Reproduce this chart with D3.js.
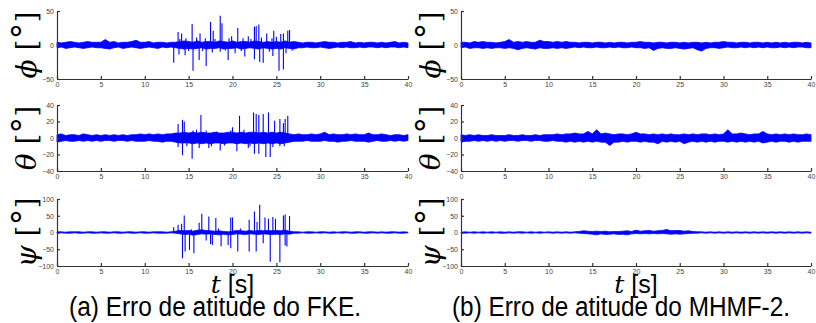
<!DOCTYPE html>
<html>
<head>
<meta charset="utf-8">
<script src="https://cdn.jsdelivr.net/npm/d3@7"></script>
<style>
  body { margin: 0; background: #fff; }
  svg { display: block; }
  .tick text { font-family: "Liberation Sans", Arial, sans-serif; font-size: 7px; fill: #444; }
  .domain, .tick line { stroke: #333; stroke-width: 1.2; }
</style>
</head>
<body>
<svg id="chart" width="816" height="323"></svg>
<script>
// sample times of the noise envelopes (every 0.5 s, 0..40 s)
const times = d3.range(81).map(i => i / 2);
const xTicks = [0, 5, 10, 15, 20, 25, 30, 35, 40];
const phiTicks = [-50, 0, 50];
const thetaTicks = [-40, -20, 0, 20, 40];
const psiTicks = [-100, -50, 0, 50, 100];

// --- FKE: upper / lower envelope of the noise band, then the spikes [t, value]
const phiFkeHi = [4,3,4,5,4,3,4,5,4,4, 4,8,4,5,3,4,4,5,7,4, 4,5,3,4,4,3,4,4,5,6, 5,4,6,4,5,5,4,6,5,4,
  6,4,5,5,4,6,5,4,5,4, 5,4,6,4,5,4,3,4,4,3, 4,5,4,4,3,4,4,5,3,4, 3,4,4,3,4,3,4,5,3,4, 3];
const phiFkeLo = [-4,-3,-5,-4,-3,-4,-5,-4,-3,-4, -4,-5,-6,-4,-3,-5,-4,-3,-4,-5, -4,-3,-4,-5,-3,-4,-3,-4,-5,-6,
  -5,-6,-5,-4,-6,-5,-5,-4,-6,-5, -5,-4,-6,-5,-4,-5,-6,-4,-5,-6, -5,-6,-4,-5,-6,-4,-4,-3,-4,-4,
  -3,-4,-5,-4,-3,-4,-3,-4,-4,-3, -4,-3,-3,-4,-3,-4,-3,-3,-4,-3, -4];
const phiFkeSpikes = [[13.3,-26],[13.8,19],[13.9,-14],[14.2,17],[14.6,-15],[14.7,10],[15.4,31],[15.5,-38],
  [16.2,-22],[16.3,17],[16.9,10],[17.0,-31],[17.5,34],[17.7,-11],[17.8,21],[18.6,43],[18.6,-10],[18.8,32],
  [19.5,-22],[19.9,13],[20.3,-12],[20.6,25],[21.2,10],[21.4,-17],[21.8,13],[22.5,27],[22.5,-21],[22.7,28],
  [23.0,30],[23.1,-25],[23.5,-26],[23.9,17],[24.5,10],[24.6,-16],[24.7,21],[25.3,-38],[25.5,16],[25.8,17],
  [25.8,-36],[26.1,-12],[26.3,21],[26.5,22],
  [14.0,9],[15.0,-9],[15.9,11],[16.6,-9],[18.0,9],[19.2,-8],[19.6,10],[21.0,-9],[22.1,9],[23.3,11],
  [24.2,-10],[25.0,12],[26.8,-8]];

const thetaFkeHi = [4,5,3,4,4,3,5,4,3,4, 3,4,3,4,3,4,3,4,4,5, 4,5,4,5,4,5,5,6,6,7, 6,7,6,7,6,6,7,6,6,7,
  7,6,7,6,7,7,6,7,6,7, 6,7,6,5,4,5,4,4,5,4, 5,7,4,5,4,4,5,4,5,4, 4,6,4,4,5,4,3,4,4,3, 4];
const thetaFkeLo = [-5,-4,-3,-4,-4,-3,-4,-3,-4,-3, -4,-3,-3,-4,-3,-3,-4,-3,-4,-4, -4,-3,-4,-4,-5,-4,-4,-5,-6,-6,
  -6,-7,-6,-7,-6,-7,-6,-6,-7,-6, -6,-7,-6,-7,-6,-7,-6,-7,-6,-7, -6,-7,-6,-5,-4,-4,-4,-3,-4,-4,
  -4,-3,-4,-4,-5,-4,-4,-3,-4,-4, -4,-5,-4,-3,-4,-4,-3,-4,-3,-4, -3];
const thetaFkeSpikes = [[13.8,17],[13.8,-11],[14.3,22],[14.3,-21],[14.5,20],[15.4,-25],[15.5,9],[16.2,-12],
  [16.4,28],[16.7,7],[17.3,-12],[18.6,-15],[20.0,13],[20.5,-16],[20.8,27],[21.8,-12],[22.4,31],[22.5,-19],
  [22.7,29],[23.0,28],[23.0,-19],[23.5,29],[23.8,-23],[24.1,31],[24.3,-23],[24.8,21],[25.4,23],[25.4,-10],
  [25.8,18],[25.9,-10],[26.0,23],[26.3,27],
  [14.8,-10],[15.9,10],[17.0,9],[17.6,-10],[18.2,8],[19.1,-9],[19.8,9],[21.3,10],[22.0,-10],[24.6,-11]];

const psiFkeHi = [2,2,1,2,2,2,1,2,2,1, 2,2,1,2,2,1,2,2,1,2, 2,1,2,2,2,1,2,4,6,5, 6,4,7,8,6,5,4,5,3,2,
  4,6,5,4,6,4,6,5,6,5, 6,5,7,4,2,2,1,2,2,1, 2,2,1,2,1,2,2,1,2,2, 1,2,2,1,2,1,2,2,1,2, 1];
const psiFkeLo = [-2,-1,-2,-2,-1,-2,-2,-1,-2,-2, -1,-2,-2,-1,-2,-2,-1,-2,-2,-1, -2,-2,-1,-2,-2,-2,-1,-2,-4,-6,
  -5,-8,-6,-4,-5,-4,-6,-7,-5,-7, -6,-4,-5,-6,-4,-5,-6,-4,-5,-6, -5,-6,-4,-5,-2,-2,-1,-2,-2,-1,
  -2,-1,-2,-2,-1,-2,-1,-2,-2,-1, -2,-2,-1,-2,-1,-2,-2,-1,-2,-2, -1];
const psiFkeSpikes = [[13.3,16],[13.8,23],[14.2,26],[14.3,-77],[14.5,51],[14.6,-57],[15.1,-52],[15.3,10],
  [15.6,-62],[16.2,29],[16.5,56],[17.0,-24],[17.3,48],[17.5,-34],[17.7,-37],[18.1,43],[18.4,12],[18.7,-41],
  [19.5,-37],[19.8,45],[19.8,-47],[20.0,45],[20.6,-57],[20.9,12],[21.9,38],[21.9,-57],[22.5,63],[22.7,-57],
  [22.8,31],[23.1,83],[23.5,-32],[23.7,45],[24.1,41],[24.3,-87],[24.6,46],[24.9,41],[25.4,-89],[25.8,51],
  [26.0,54],[26.0,-39],[26.2,-42],[26.5,49]];

// --- MHMF-2: noise only
const phiMhmfHi = [4,4,3,5,4,5,4,4,3,4, 5,8,4,5,4,5,4,4,7,5, 5,4,5,4,5,4,4,3,4,4, 3,4,4,3,4,3,4,4,3,4,
  4,5,4,4,3,4,4,3,4,4, 3,4,3,4,4,3,4,3,4,4, 5,4,4,3,4,4,3,4,4,3, 4,3,4,3,4,3,4,4,3,4, 3];
const phiMhmfLo = [-4,-3,-5,-4,-4,-5,-4,-5,-4,-4, -5,-4,-5,-7,-5,-4,-5,-6,-4,-5, -5,-4,-5,-4,-5,-4,-3,-4,-3,-4,
  -4,-3,-4,-4,-3,-4,-3,-4,-4,-3, -4,-4,-5,-4,-8,-5,-4,-5,-5,-4, -5,-6,-5,-4,-7,-9,-5,-4,-4,-5,
  -4,-3,-4,-4,-3,-4,-3,-4,-3,-4, -3,-4,-4,-3,-4,-3,-4,-3,-3,-4, -4];

const thetaMhmfHi = [4,3,4,3,4,3,3,4,3,3, 3,4,3,3,4,3,3,4,3,4, 4,4,5,4,5,5,6,5,5,8, 5,10,5,6,5,4,5,5,4,5,
  7,5,5,4,5,4,5,4,5,4, 4,5,4,5,4,5,5,4,5,4, 5,10,5,5,6,5,4,5,5,8, 5,4,5,4,5,4,5,4,4,5, 4];
const thetaMhmfLo = [-5,-4,-4,-3,-4,-3,-4,-3,-4,-3, -4,-3,-3,-4,-3,-3,-4,-3,-3,-4, -4,-3,-4,-4,-5,-4,-5,-4,-5,-4,
  -5,-4,-5,-5,-9,-5,-5,-4,-5,-4, -4,-5,-4,-5,-5,-7,-4,-5,-4,-5, -4,-7,-5,-4,-5,-4,-5,-4,-5,-4,
  -4,-5,-4,-5,-4,-5,-4,-5,-4,-6, -5,-4,-5,-4,-4,-5,-4,-5,-4,-4, -4];

const psiMhmfHi = [1,2,1,2,1,2,1,2,1,2, 1,2,1,2,2,1,2,1,2,1, 2,1,2,1,2,1,2,3,5,4, 3,4,3,4,2,3,3,4,5,3,
  7,4,5,6,4,5,6,9,5,6, 6,4,5,3,2,2,1,2,1,2, 1,2,1,2,1,2,1,2,1,2, 1,2,1,2,1,2,1,2,1,2, 1];
const psiMhmfLo = [-1,-2,-1,-2,-1,-2,-1,-2,-1,-2, -2,-1,-2,-1,-2,-1,-2,-1,-2,-1, -1,-2,-1,-2,-1,-2,-1,-2,-3,-4,
  -5,-7,-4,-6,-5,-4,-6,-5,-7,-4, -3,-4,-3,-4,-3,-4,-3,-4,-5,-4, -5,-4,-3,-2,-2,-1,-2,-1,-2,-1,
  -2,-1,-2,-1,-2,-1,-2,-1,-2,-1, -2,-1,-2,-1,-2,-1,-2,-1,-2,-1, -2];

const captions = ["(a) Erro de atitude do FKE.", "(b) Erro de atitude do MHMF-2."];
const symbols = ["\u03D5", "\u03B8", "\u03C8"];

const svg = d3.select('#chart');

const cols = [
  {x0: 57, x1: 408, capX: 215, capW: 292},
  {x0: 461, x1: 811, capX: 621, capW: 338}
];
const rows = [
  {y0: 11, y1: 79, domain: [-50, 50], ticks: phiTicks},
  {y0: 105, y1: 171, domain: [-40, 40], ticks: thetaTicks},
  {y0: 199, y1: 266, domain: [-100, 100], ticks: psiTicks}
];
const panels = [
  [[phiFkeHi, phiFkeLo, phiFkeSpikes], [thetaFkeHi, thetaFkeLo, thetaFkeSpikes], [psiFkeHi, psiFkeLo, psiFkeSpikes]],
  [[phiMhmfHi, phiMhmfLo, []], [thetaMhmfHi, thetaMhmfLo, []], [psiMhmfHi, psiMhmfLo, []]]
];

cols.forEach((col, c) => {
  const x = d3.scaleLinear().domain([0, 40]).range([col.x0, col.x1]);

  rows.forEach((row, r) => {
    const y = d3.scaleLinear().domain(row.domain).range([row.y1, row.y0]);
    const [hi, lo, spikes] = panels[c][r];
    const g = svg.append('g');

    const band = d3.area()
      .x(t => x(t))
      .y0((t, i) => y(lo[i]))
      .y1((t, i) => y(hi[i]));

    g.append('path')
      .datum(times)
      .attr('d', band)
      .attr('fill', '#0000ff')
      .attr('stroke', '#0000ff')
      .attr('stroke-width', 0.8);

    g.selectAll('line.spike')
      .data(spikes)
      .join('line')
      .attr('class', 'spike')
      .attr('x1', d => x(d[0])).attr('x2', d => x(d[0]))
      .attr('y1', y(0)).attr('y2', d => y(d[1]))
      .attr('stroke', '#0000ff')
      .attr('stroke-width', 1.1);

    g.append('g')
      .attr('transform', 'translate(0,' + row.y1 + ')')
      .call(d3.axisBottom(x).tickValues(xTicks).tickSizeInner(-3).tickSizeOuter(0).tickPadding(3));

    g.append('g')
      .attr('transform', 'translate(' + col.x0 + ',0)')
      .call(d3.axisLeft(y).tickValues(row.ticks).tickSizeInner(-3).tickSizeOuter(0).tickPadding(3));

    // y label, e.g. "phi [deg]"
    const lab = svg.append('text')
      .attr('transform', 'translate(' + (col.x0 - 21) + ',' + ((row.y0 + row.y1) / 2) + ') rotate(-90)')
      .attr('text-anchor', 'middle')
      .style('font-family', '"DejaVu Serif", serif')
      .style('font-size', '28px');
    lab.append('tspan').style('font-style', 'italic').text(symbols[r]);
    lab.append('tspan').text(' [');
    lab.append('tspan').style('font-family', '"DejaVu Sans", sans-serif').style('font-size', '34px').text('\u00B0');
    lab.append('tspan').text(']');
  });

  // x label and sub caption
  const tl = svg.append('text')
    .attr('x', (col.x0 + col.x1) / 2)
    .attr('y', 293)
    .attr('text-anchor', 'middle')
    .style('font-size', '25px');
  tl.append('tspan').style('font-family', '"DejaVu Serif", serif').style('font-style', 'italic').text('t');
  tl.append('tspan').style('font-family', '"Liberation Sans Narrow", sans-serif').text(' [s]');

  svg.append('text')
    .attr('x', col.capX)
    .attr('y', 316)
    .attr('text-anchor', 'middle')
    .attr('textLength', col.capW)
    .attr('lengthAdjust', 'spacingAndGlyphs')
    .style('font-family', '"Liberation Sans Narrow", sans-serif')
    .style('font-size', '27px')
    .text(captions[c]);
});
</script>
</body>
</html>
